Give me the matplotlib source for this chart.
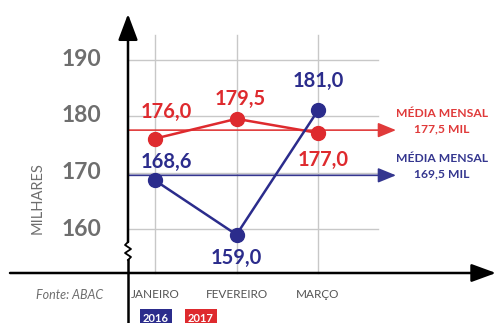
import matplotlib
matplotlib.use('Agg')
import matplotlib.pyplot as plt

# dados (milhares)
months = ['JANEIRO', 'FEVEREIRO', 'MARÇO']
vals_2016 = [168.6, 159.0, 181.0]
vals_2017 = [176.0, 179.5, 177.0]
labels_2016 = ['168,6', '159,0', '181,0']
labels_2017 = ['176,0', '179,5', '177,0']
media_2016 = 169.5
media_2017 = 177.5
media_txt_2016 = '169,5 MIL'
media_txt_2017 = '177,5 MIL'
yticks = [160, 170, 180, 190]

red = '#de2a2e'
blue = '#2b2c8c'
grey = '#6e6e6e'
gridc = '#c8c8c8'

plt.rcParams['font.family'] = ['Lato', 'DejaVu Sans']

W, H = 497, 323
fig = plt.figure(figsize=(W / 100, H / 100), dpi=100)
ax = fig.add_axes([0, 0, 1, 1])

# pixel -> data helpers (x: month index, y: milhares)
def px_x(px):
    return (px - 155) / 81.5

def px_y(py):
    return 160 + (229 - py) / 5.65

ax.set_xlim(px_x(0), px_x(W))
ax.set_ylim(px_y(H), px_y(0))
ax.axis('off')

x = list(range(len(months)))
x_axis = px_x(128)
y_axis = px_y(273)
pt = 100 / 72.0  # px per point

# grade
for v in yticks:
    ax.plot([x_axis, px_x(378)], [v, v], color=gridc, lw=1, zorder=1)
for i in x:
    ax.plot([i, i], [y_axis, px_y(35)], color=gridc, lw=1, zorder=1)

# eixos
ax.annotate('', xy=(px_x(496), y_axis), xytext=(px_x(10), y_axis),
            arrowprops=dict(arrowstyle='-|>,head_length=1.5,head_width=0.55',
                            mutation_scale=10, color='k', lw=1.8, shrinkA=0, shrinkB=0),
            zorder=3)
ax.plot([x_axis, x_axis], [px_y(H), px_y(260)], color='k', lw=1.8, zorder=3)
zz_x = [x_axis, px_x(131), px_x(125), px_x(131), px_x(125), x_axis]
zz_y = [px_y(260), px_y(257), px_y(253), px_y(249), px_y(245), px_y(242)]
ax.plot(zz_x, zz_y, color='k', lw=1.3, zorder=3)
ax.annotate('', xy=(x_axis, px_y(14)), xytext=(x_axis, px_y(242)),
            arrowprops=dict(arrowstyle='-|>,head_length=1.6,head_width=0.6',
                            mutation_scale=10, color='k', lw=1.8, shrinkA=0, shrinkB=0),
            zorder=3)

# rótulos eixo y
for v in yticks:
    ax.text(px_x(101), v, str(v), ha='right', va='center', fontsize=16.5,
            fontweight='bold', color=grey)
ax.text(px_x(38), px_y(198), 'MILHARES', rotation=90, ha='center', va='center',
        fontsize=10.5, color=grey)

# meses
for i, m in zip(x, months):
    ax.text(i, px_y(295), m, ha='center', va='center', fontsize=8.5, color='#555555')
ax.text(px_x(70), px_y(295), 'Fonte: ABAC', ha='center', va='center', fontsize=9,
        style='italic', color=grey)

# legenda
ax.text(px_x(156), px_y(318), '2016', ha='center', va='center', fontsize=8,
        fontweight='bold', color='white',
        bbox=dict(boxstyle='square,pad=0.3', fc=blue, ec='none'))
ax.text(px_x(201), px_y(318), '2017', ha='center', va='center', fontsize=8,
        fontweight='bold', color='white',
        bbox=dict(boxstyle='square,pad=0.3', fc=red, ec='none'))

# médias
for media, col, txt in [(media_2017, '#e03a3a', media_txt_2017),
                        (media_2016, '#34368f', media_txt_2016)]:
    ax.annotate('', xy=(px_x(396), media), xytext=(x_axis, media),
                arrowprops=dict(arrowstyle='-|>,head_length=1.1,head_width=0.45',
                                mutation_scale=10, color=col, lw=1.2,
                                shrinkA=0, shrinkB=0), zorder=2)
    ax.annotate('MÉDIA MENSAL', xy=(px_x(442), media), xytext=(0, 17 / pt),
                textcoords='offset points', ha='center', va='center',
                fontsize=8.7, fontweight='bold', color=col)
    ax.annotate(txt, xy=(px_x(442), media), xytext=(0, 1 / pt),
                textcoords='offset points', ha='center', va='center',
                fontsize=8.7, fontweight='bold', color=col)

# séries
ax.plot(x, vals_2017, color=red, lw=1.8, marker='o', markersize=10, zorder=4)
ax.plot(x, vals_2016, color=blue, lw=1.8, marker='o', markersize=10, zorder=5)

offs_2016 = [(11, 18), (0, -23), (0, 29)]
offs_2017 = [(11, 27), (4, 20), (5, -27)]
for xi, v, lab, (dx, dy) in zip(x, vals_2016, labels_2016, offs_2016):
    ax.annotate(lab, xy=(xi, v), xytext=(dx / pt, dy / pt), textcoords='offset points',
                ha='center', va='center', fontsize=14.5, fontweight='bold', color=blue)
for xi, v, lab, (dx, dy) in zip(x, vals_2017, labels_2017, offs_2017):
    ax.annotate(lab, xy=(xi, v), xytext=(dx / pt, dy / pt), textcoords='offset points',
                ha='center', va='center', fontsize=14.5, fontweight='bold', color=red)

fig.savefig('out.png', dpi=100, facecolor='white')
